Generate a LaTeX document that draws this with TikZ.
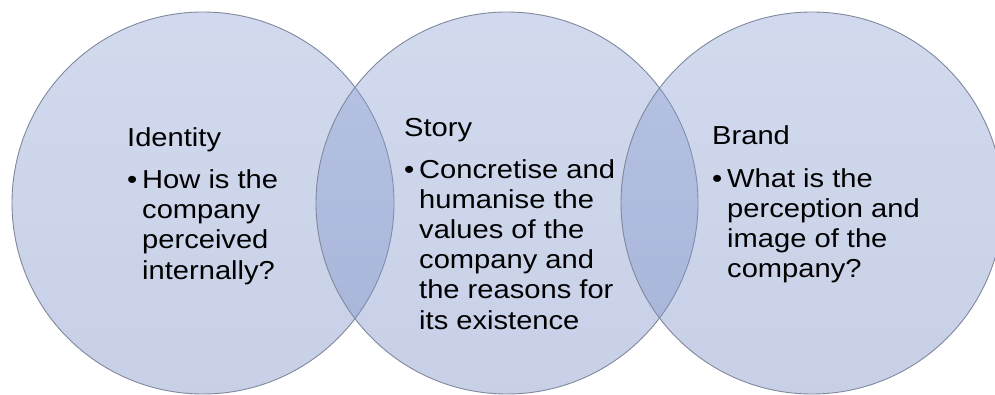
\documentclass[tikz,border=0pt]{standalone}
\usepackage{fontspec}
\setmainfont{Liberation Sans}[FakeStretch=1.12]
\usetikzlibrary{positioning}

\definecolor{ring}{RGB}{122,145,205}
\colorlet{ringtop}{ring!85!white}
\colorlet{ringbot}{ring!95!black}
\definecolor{ringline}{RGB}{128,136,156}

\tikzstyle{disc} = [circle, minimum size=382pt, inner sep=0pt,
    draw=ringline, line width=0.9pt, draw opacity=1,
    top color=ringtop, bottom color=ringbot, fill opacity=0.4]
\tikzstyle{head} = [font=\fontsize{26}{30}\selectfont,
    inner sep=0pt, anchor=base west]
\tikzstyle{item} = [font=\fontsize{26}{30}\selectfont, inner sep=0pt,
    below right=42pt and 15pt of #1.base west, anchor=base west]
% bullet hangs left of the first line, the block sits on its first baseline
\newcommand{\bul}{\llap{\makebox[15pt][l]{\textbullet}}}
\newcommand{\bullist}[1]{\begin{tabular}[t]{@{}l@{}}\bul #1\end{tabular}}

\begin{document}
\begin{tikzpicture}[x=1pt, y=1pt]
\useasboundingbox (0,0) rectangle (995,394);

% the three discs
\node[disc] (d1) at (203,191) {};
\node[disc] (d2) at (507,191) {};
\node[disc] (d3) at (812,191) {};

\node[head] (h1) at (127,247) {Identity};
\node[item=h1] (t1) {\bullist{How is the\\company\\perceived\\internally?}};

\node[head] (h2) at (404,257) {Story};
\node[item=h2] (t2) {\bullist{Concretise and\\humanise the\\values of the\\company and\\the reasons for\\its existence}};

\node[head] (h3) at (712,249) {Brand};
\node[item=h3] (t3) {\bullist{What is the\\perception and\\image of the\\company?}};

\end{tikzpicture}
\end{document}
